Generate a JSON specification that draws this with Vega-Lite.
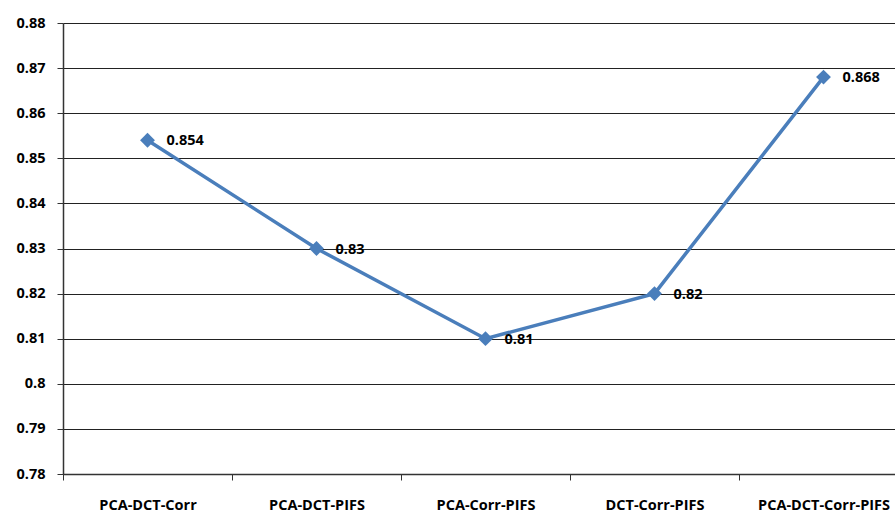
{
  "$schema": "https://vega.github.io/schema/vega-lite/v6.json",
  "autosize": "none",
  "padding": {"left": 63, "top": 23, "right": 0, "bottom": 41},
  "width": 845,
  "height": 451,
  "background": "white",
  "config": {"view": {"stroke": null}},
  "data": {"values": [
    {"method": "PCA-DCT-Corr", "value": 0.854},
    {"method": "PCA-DCT-PIFS", "value": 0.83},
    {"method": "PCA-Corr-PIFS", "value": 0.81},
    {"method": "DCT-Corr-PIFS", "value": 0.82},
    {"method": "PCA-DCT-Corr-PIFS", "value": 0.868}
  ]},
  "encoding": {
    "x": {"field": "method", "type": "nominal", "sort": null,
      "scale": {"type": "band", "paddingInner": 0, "paddingOuter": 0},
      "axis": {"title": null, "labelAngle": 0, "labelFont": "Open Sans", "labelFontWeight": "bold", "labelFontSize": 14.5, "labelColor": "#000", "labelPadding": 18, "tickBand": "extent", "tickColor": "#333", "tickSize": 6, "domainColor": "#333", "domainWidth": 1.5, "grid": false}},
    "y": {"field": "value", "type": "quantitative",
      "scale": {"domain": [0.78, 0.88], "nice": false, "zero": false},
      "axis": {"title": null, "values": [0.78, 0.79, 0.8, 0.81, 0.82, 0.83, 0.84, 0.85, 0.86, 0.87, 0.88], "labelExpr": "datum.value == 0.8 ? '0.8' : format(datum.value, '.2f')", "labelFont": "Open Sans", "labelFontWeight": "bold", "labelFontSize": 14.5, "labelColor": "#000", "labelPadding": 12, "tickColor": "#333", "tickSize": 6, "domainColor": "#333", "domainWidth": 1.5, "grid": true, "gridColor": "#222", "gridWidth": 1, "gridOpacity": 1}}
  },
  "layer": [
    {"mark": {"type": "line", "color": "#4A7EBB", "strokeWidth": 3.5}},
    {"mark": {"type": "point", "shape": "diamond", "filled": true, "color": "#4A7EBB", "opacity": 1, "size": 220}},
    {"mark": {"type": "text", "align": "left", "baseline": "middle", "dx": 19, "dy": 1, "font": "Open Sans", "fontWeight": "bold", "fontSize": 14.5, "color": "#000"},
     "encoding": {"text": {"field": "value", "type": "quantitative"}}}
  ]
}
